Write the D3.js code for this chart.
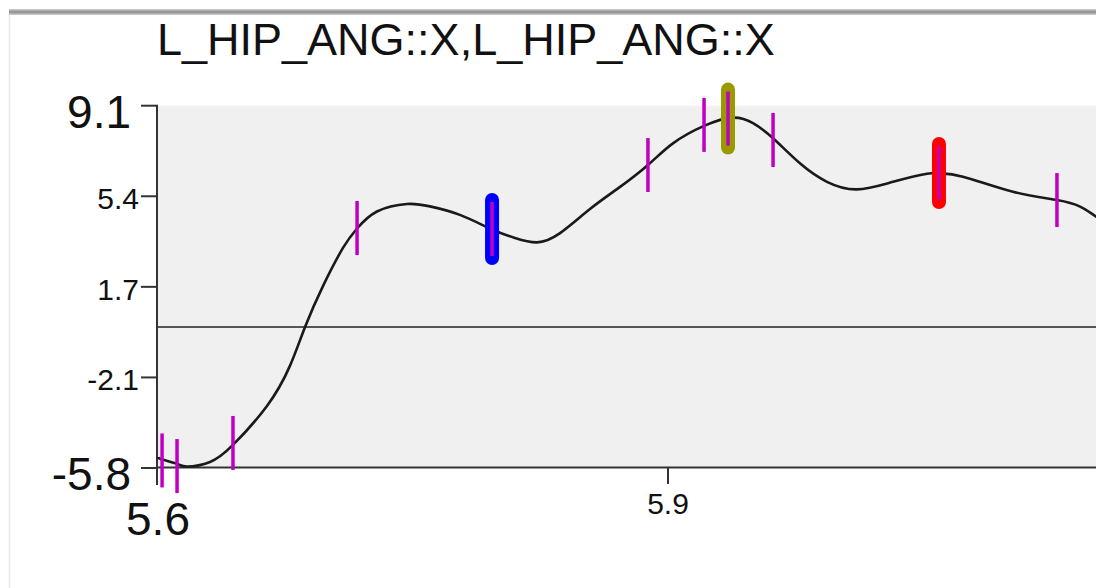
<!DOCTYPE html>
<html>
<head>
<meta charset="utf-8">
<script src="https://cdn.jsdelivr.net/npm/d3@7"></script>
<style>
  html, body { margin: 0; padding: 0; background: #fff; overflow: hidden; }
  svg { display: block; font-family: "Liberation Sans", Arial, sans-serif; }
</style>
</head>
<body>
<div id="chart"></div>
<script>
// Trace data (time in s, angle in deg)
const curveT = [5.600, 5.6024, 5.6112, 5.6171, 5.6306, 5.6441, 5.6641, 5.6776, 5.6865, 5.6971,
  5.7088, 5.7171, 5.7288, 5.7465, 5.7600, 5.7776, 5.7965, 5.8100, 5.8229, 5.8365,
  5.8541, 5.8718, 5.8882, 5.9029, 5.9212, 5.9382, 5.9500, 5.9618, 5.9776, 5.9935,
  6.0112, 6.0324, 6.0524, 6.0600, 6.0735, 6.1029, 6.1288, 6.1424, 6.1518, 6.1660];
const curveV = [-5.35, -5.45, -5.63, -5.74, -5.55, -4.85, -3.25, -1.60, 0.0, 1.69,
  3.25, 4.05, 4.75, 5.06, 4.96, 4.61, 4.01, 3.66, 3.48, 3.86,
  4.85, 5.76, 6.66, 7.55, 8.27, 8.61, 8.38, 7.76, 6.73, 5.97,
  5.66, 5.97, 6.30, 6.32, 6.18, 5.56, 5.22, 4.95, 4.54, 3.91];

// Event markers on the trace
const markerT = [5.6024, 5.6112, 5.6441, 5.7171, 5.7965, 5.8882, 5.9212, 5.9353, 5.9618, 6.0594, 6.1288];
const markerV = [-5.49, -5.72, -4.77, 4.07, 4.03, 6.66, 8.31, 8.57, 7.69, 6.33, 5.22];

// Highlighted events
const highlightT = [5.7965, 5.9353, 6.0594];
const highlightV = [4.03, 8.57, 6.33];
const highlightColor = ["#0000ff", "#999900", "#ff0000"];

const title = "L_HIP_ANG::X,L_HIP_ANG::X";
const xDomain = [5.6, 6.2];
const yDomain = [-5.8, 9.1];
const xTickValues = [5.6, 5.9];
const xTickLabels = ["5.6", "5.9"];
const yTickLabels = ["-5.8", "-2.1", "1.7", "5.4", "9.1"];

const width = 1096, height = 588;
const plot = { left: 158, top: 105.7, right: 1178, bottom: 468 };

const svg = d3.select("#chart").append("svg")
  .attr("width", width)
  .attr("height", height);

// window frame
svg.append("rect").attr("x", 9).attr("y", 9).attr("width", width - 9).attr("height", 6).attr("fill", "#c6c6c6");
svg.append("rect").attr("x", 9).attr("y", 10.5).attr("width", width - 9).attr("height", 3).attr("fill", "#979797");
svg.append("line").attr("x1", 9.5).attr("x2", 9.5).attr("y1", 15).attr("y2", height)
  .attr("stroke", "#e8e8e8").attr("stroke-width", 1.5);

const x = d3.scaleLinear().domain(xDomain).range([plot.left, plot.right]);
const y = d3.scaleLinear().domain(yDomain).range([plot.bottom, plot.top]);

svg.append("rect")
  .attr("x", plot.left).attr("y", plot.top)
  .attr("width", plot.right - plot.left).attr("height", plot.bottom - plot.top)
  .attr("fill", "#f0f0f0");

svg.append("text")
  .attr("x", 157).attr("y", 55)
  .attr("font-size", 45)
  .attr("fill", "#111")
  .text(title);

// zero line
svg.append("line")
  .attr("x1", plot.left).attr("x2", plot.right)
  .attr("y1", y(0)).attr("y2", y(0))
  .attr("stroke", "#222").attr("stroke-width", 1.6);

// axes
const axisColor = "#333";
svg.append("line")
  .attr("x1", plot.left - 1).attr("x2", plot.left - 1)
  .attr("y1", plot.top).attr("y2", plot.bottom + 17)
  .attr("stroke", axisColor).attr("stroke-width", 2);
svg.append("line")
  .attr("x1", plot.left).attr("x2", plot.right)
  .attr("y1", plot.bottom - 0.5).attr("y2", plot.bottom - 0.5)
  .attr("stroke", axisColor).attr("stroke-width", 2);

// y ticks: evenly spaced over the domain
const yTickValues = d3.range(yTickLabels.length)
  .map((i) => yDomain[0] + i * (yDomain[1] - yDomain[0]) / (yTickLabels.length - 1));

yTickValues.forEach((v, i) => {
  const big = i === 0 || i === yTickLabels.length - 1;
  svg.append("line")
    .attr("x1", plot.left - 17).attr("x2", plot.left)
    .attr("y1", y(v)).attr("y2", y(v))
    .attr("stroke", axisColor).attr("stroke-width", 2);
  svg.append("text")
    .attr("x", big ? 131 : 139)
    .attr("y", y(v) + (big ? 22 : 13))
    .attr("text-anchor", "end")
    .attr("font-size", big ? 46 : 30)
    .attr("fill", "#111")
    .text(yTickLabels[i]);
});

xTickValues.forEach((v, i) => {
  const big = i === 0;
  if (!big) {
    svg.append("line")
      .attr("x1", x(v)).attr("x2", x(v))
      .attr("y1", plot.bottom).attr("y2", plot.bottom + 16)
      .attr("stroke", axisColor).attr("stroke-width", 2);
  }
  svg.append("text")
    .attr("x", x(v))
    .attr("y", big ? 535 : 514)
    .attr("text-anchor", "middle")
    .attr("font-size", big ? 46 : 30)
    .attr("fill", "#111")
    .text(xTickLabels[i]);
});

// trace
const pts = curveT.map((t, i) => [t, curveV[i]]);
const line = d3.line()
  .x((d) => x(d[0]))
  .y((d) => y(d[1]))
  .curve(d3.curveNatural);

svg.append("path")
  .datum(pts)
  .attr("d", line)
  .attr("fill", "none")
  .attr("stroke", "#1a1a1a")
  .attr("stroke-width", 2.6);

// highlighted events (thick rounded bars)
const hlHalf = 29;
highlightT.forEach((t, i) => {
  svg.append("line")
    .attr("x1", x(t)).attr("x2", x(t))
    .attr("y1", y(highlightV[i]) - hlHalf).attr("y2", y(highlightV[i]) + hlHalf)
    .attr("stroke", highlightColor[i])
    .attr("stroke-width", 14)
    .attr("stroke-linecap", "round");
});

// event markers
const mkHalf = 27;
markerT.forEach((t, i) => {
  svg.append("line")
    .attr("x1", x(t)).attr("x2", x(t))
    .attr("y1", y(markerV[i]) - mkHalf).attr("y2", y(markerV[i]) + mkHalf)
    .attr("stroke", "#c000c0")
    .attr("stroke-width", 3.5);
});
</script>
</body>
</html>
